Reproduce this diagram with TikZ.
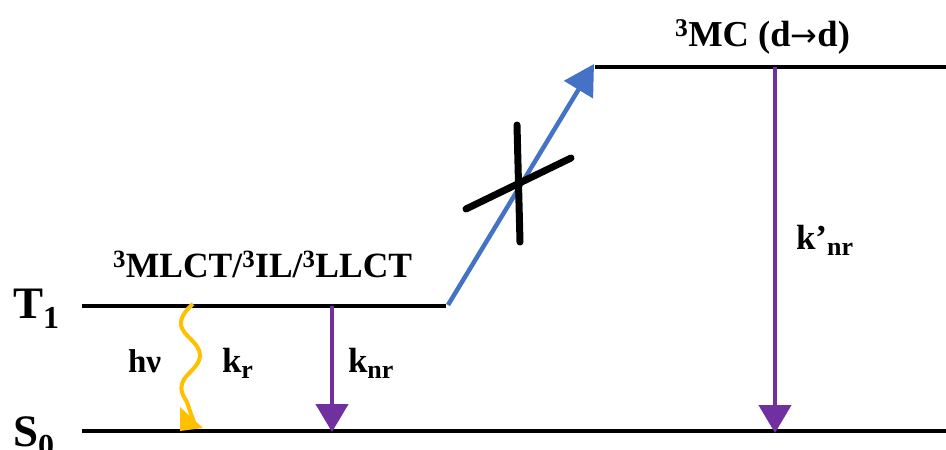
\documentclass[tikz,border=0pt]{standalone}
\usepackage{fontspec}
\setmainfont{Liberation Serif}
\newfontfamily\arrfont{DejaVu Sans}
\usetikzlibrary{arrows.meta}
\definecolor{lvlblue}{HTML}{4472C4}
\definecolor{lvlpurple}{HTML}{7030A0}
\definecolor{lvlgold}{HTML}{FFC000}
\newcommand{\fsz}[1]{\fontsize{#1}{#1}\selectfont}
\begin{document}
\begin{tikzpicture}[x=1pt,y=-1pt,
  level/.style={line width=4.5pt},
  lbl/.style={inner sep=0pt, outer sep=0pt, anchor=base west, font=\bfseries},
  decay/.style={lvlpurple, line width=4.5pt, -{Triangle[length=28pt,width=32pt]}},
  crossbar/.style={line width=7pt, line cap=round}]
\useasboundingbox (0,0) rectangle (946,450);
% level coordinates
\coordinate (t1a) at (82,306);
\coordinate (t1b) at (446,306);
\coordinate (s0a) at (82,431);
\coordinate (s0b) at (946,431);
\coordinate (mca) at (595,67);
\coordinate (mcb) at (946,67);
\draw[level] (t1a) -- (t1b);
\draw[level] (s0a) -- (s0b);
\draw[level] (mca) -- (mcb);
% labels
\node[lbl] (T1) at (13,318) {\fsz{45}T\raisebox{-10pt}{\fsz{32}1}};
\node[lbl] (S0) at (13,446) {\fsz{45}S\raisebox{-10pt}{\fsz{32}0}};
\node[lbl] (mlct) at (113,277) {\fsz{35.5}\textsuperscript{3}MLCT/\textsuperscript{3}IL/\textsuperscript{3}LLCT};
\node[lbl] (mc) at (675,46) {\fsz{36.5}\textsuperscript{3}MC (d{\arrfont\mdseries\fsz{32}→}d)};
\node[lbl] (hv) at (128,372) {\fsz{33}hν};
\node[lbl] (kr) at (222,372) {\fsz{35}k\raisebox{-6pt}{\fsz{26}r}};
\node[lbl] (knr) at (348,372) {\fsz{35}k\raisebox{-6pt}{\fsz{26}nr}};
\node[lbl] (kpnr) at (796,249) {\fsz{35}k’\raisebox{-6pt}{\fsz{26}nr}};
% blue arrow
\coordinate (bs) at (448,305);
\coordinate (be) at (594,64);
\draw[lvlblue, line width=4.5pt, -{Triangle[length=30pt,width=33pt]}] (bs) -- (be);
% cross
\coordinate (c1a) at (517,125);
\coordinate (c1b) at (520,242);
\coordinate (c2a) at (466,209);
\coordinate (c2b) at (571,158);
\draw[crossbar] (c1a) -- (c1b);
\draw[crossbar] (c2a) -- (c2b);
% non-radiative decays
\coordinate (k1s) at (332,306);
\coordinate (k1e) at (332,432);
\coordinate (k2s) at (775,67);
\coordinate (k2e) at (775,433);
\draw[decay] (k1s) -- (k1e);
\draw[decay] (k2s) -- (k2e);
% radiative wavy arrow
\coordinate (ws) at (193,304);
\coordinate (we) at (194,422);
\draw[lvlgold, line width=4pt] plot[smooth, tension=0.75] coordinates {(ws) (181,325) (200,355) (182,384) (188,405) (we)};
\fill[lvlgold] (180,407) -- (180,431) -- (203,428) -- cycle;
\end{tikzpicture}
\end{document}
